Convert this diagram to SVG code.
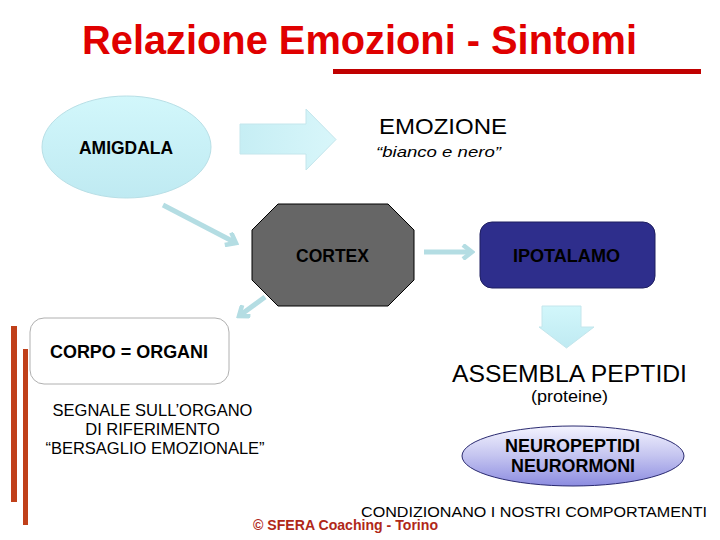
<svg xmlns="http://www.w3.org/2000/svg" width="720" height="540" viewBox="0 0 720 540">
<defs>
<style>
text{font-family:"Liberation Sans",Arial,sans-serif;fill:#000}
.b{font-weight:bold}
.lbl{font-size:18px;font-weight:bold}
.sg{font-size:16.5px}
.conn{stroke:#b4dde3;stroke-width:5;fill:none;stroke-linecap:butt}
.bar{fill:#c0401a}
</style>
<linearGradient id="cyan" x1="0" y1="0" x2="0" y2="1">
<stop offset="0" stop-color="#d2f7fb"/>
<stop offset="1" stop-color="#bfeaf2"/>
</linearGradient>
<linearGradient id="cyanH" x1="0" y1="0" x2="1" y2="0">
<stop offset="0" stop-color="#c6eef4"/>
<stop offset="1" stop-color="#d8f6fa"/>
</linearGradient>
<linearGradient id="lav" x1="0" y1="0" x2="0" y2="1">
<stop offset="0" stop-color="#f4f4ff"/>
<stop offset="0.5" stop-color="#c4c4f0"/>
<stop offset="1" stop-color="#8c8ce0"/>
</linearGradient>
<marker id="chev2" viewBox="0 0 16 16" refX="13" refY="8" markerWidth="16" markerHeight="16" markerUnits="userSpaceOnUse" orient="auto">
<path d="M4,1 L13,8 L4,15" fill="none" stroke="#b4dde3" stroke-width="4.5"/>
</marker>
</defs>
<rect width="720" height="540" fill="#fff"/>

<g id="title">
<text x="82" y="54" font-size="40" class="b" style="fill:#e00000" textLength="555" lengthAdjust="spacingAndGlyphs">Relazione Emozioni - Sintomi</text>
<rect x="333" y="69" width="368" height="5" fill="#c00000"/>
</g>

<g id="bars">
<rect class="bar" x="11" y="326" width="6" height="176"/>
<rect class="bar" x="23" y="349" width="5" height="176"/>
</g>

<g id="connectors">
<line class="conn" x1="163" y1="205" x2="236" y2="243" marker-end="url(#chev2)"/>
<line class="conn" x1="424" y1="252" x2="472" y2="252" marker-end="url(#chev2)"/>
<line class="conn" x1="265" y1="297" x2="239" y2="316" marker-end="url(#chev2)"/>
<path id="bigArrow" d="M240,124 H306 V109 L336,139.5 L306,170 V154 H240 Z" fill="url(#cyanH)" stroke="#c4e6ec" stroke-width="1"/>
<path id="downArrow" d="M542,306 H581 V327 H594 L566.5,348 L539,327 H542 Z" fill="url(#cyan)" stroke="#c4e6ec" stroke-width="1"/>
</g>

<g id="amigdala">
<ellipse cx="126.5" cy="147" rx="84.5" ry="51" fill="url(#cyan)" stroke="#b8dfe6" stroke-width="1"/>
<text x="79" y="154" class="lbl" textLength="94" lengthAdjust="spacingAndGlyphs">AMIGDALA</text>
</g>

<g id="emozione">
<text x="379" y="134" font-size="22" textLength="128" lengthAdjust="spacingAndGlyphs">EMOZIONE</text>
<text x="376" y="157" font-size="15" font-style="italic" textLength="125" lengthAdjust="spacingAndGlyphs">“bianco e nero”</text>
</g>

<g id="cortex">
<polygon points="278,204 388,204 414,230 414,280 388,306 278,306 252,280 252,230" fill="#666666" stroke="#000" stroke-width="1"/>
<text x="296" y="262" class="lbl" textLength="73" lengthAdjust="spacingAndGlyphs">CORTEX</text>
</g>

<g id="ipotalamo">
<rect x="480" y="222" width="175" height="66" rx="12" fill="#2e2e8c" stroke="#1e1e60" stroke-width="1"/>
<text x="513" y="262" class="lbl" textLength="107" lengthAdjust="spacingAndGlyphs">IPOTALAMO</text>
</g>

<g id="corpo">
<rect x="30" y="318" width="199" height="66" rx="14" fill="#fff" stroke="#b0b0b0" stroke-width="1"/>
<text x="50" y="358" class="lbl" textLength="158" lengthAdjust="spacingAndGlyphs">CORPO = ORGANI</text>
</g>

<g id="segnale">
<text x="152.5" y="416" class="sg" text-anchor="middle">SEGNALE SULL’ORGANO</text>
<text x="152.5" y="435" class="sg" text-anchor="middle">DI RIFERIMENTO</text>
<text x="155" y="454" class="sg" text-anchor="middle">“BERSAGLIO EMOZIONALE”</text>
</g>

<g id="assembla">
<text x="452" y="382" font-size="24.5" textLength="235" lengthAdjust="spacingAndGlyphs">ASSEMBLA PEPTIDI</text>
<text x="531" y="402" font-size="17" textLength="77" lengthAdjust="spacingAndGlyphs">(proteine)</text>
</g>

<g id="neuropeptidi">
<ellipse cx="573" cy="456" rx="111" ry="30" fill="url(#lav)" stroke="#2a2a70" stroke-width="1"/>
<text x="505" y="452" font-size="17.5" class="b" textLength="135" lengthAdjust="spacingAndGlyphs">NEUROPEPTIDI</text>
<text x="511" y="472" font-size="17.5" class="b" textLength="124" lengthAdjust="spacingAndGlyphs">NEURORMONI</text>
</g>

<g id="footer">
<text x="361" y="517" font-size="15" textLength="346" lengthAdjust="spacingAndGlyphs">CONDIZIONANO I NOSTRI COMPORTAMENTI</text>
<text x="253" y="530" font-size="14" class="b" style="fill:#b02818" textLength="185" lengthAdjust="spacingAndGlyphs">© SFERA Coaching - Torino</text>
</g>
</svg>
